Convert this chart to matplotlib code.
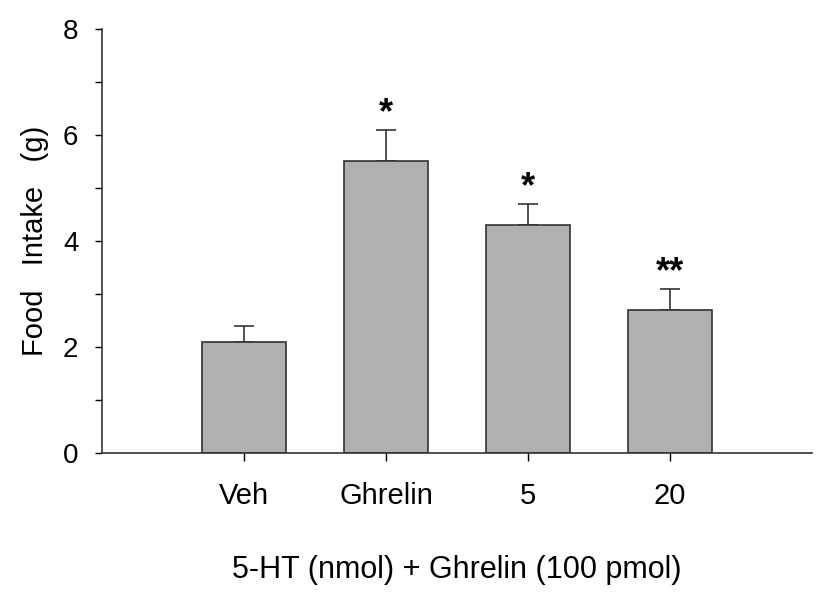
import numpy as np
import matplotlib.pyplot as plt
from matplotlib.ticker import MultipleLocator

plt.rcParams['font.family'] = ['Liberation Sans', 'DejaVu Sans']

groups = ["Veh", "Ghrelin", "5", "20"]
intake = [2.1, 5.5, 4.3, 2.7]
sem = [0.3, 0.6, 0.4, 0.4]
marks = ["", "*", "*", "**"]

fig = plt.figure(figsize=(8.26, 6), dpi=100)
ax = fig.add_axes([0.1235, 0.245, 0.8595, 0.707])

x = np.arange(1, len(groups) + 1)
ax.bar(x, intake, width=0.594, color="#b0b0b0", edgecolor="#333333", linewidth=1.2, zorder=2)
ax.errorbar(x, intake, yerr=[np.zeros(len(sem)), sem], fmt="none", ecolor="#333333",
            elinewidth=1.2, capsize=7, capthick=1.2, zorder=1)
for xi, m, s, v in zip(x, marks, sem, intake):
    if m:
        ax.text(xi, v + s + 0.12, m, ha="center", va="baseline", fontsize=26, fontweight="bold")

ax.set_xlim(0, 5)
ax.set_ylim(0, 8)
ax.set_xticks(x)
ax.set_xticklabels(groups)
ax.yaxis.set_major_locator(MultipleLocator(2))
ax.yaxis.set_minor_locator(MultipleLocator(1))
ax.spines["top"].set_visible(False)
ax.spines["right"].set_visible(False)
for sp in ("left", "bottom"):
    ax.spines[sp].set_linewidth(1.2)
    ax.spines[sp].set_color("#333333")
ax.tick_params(axis="y", which="major", direction="out", length=5, width=1, pad=12, labelsize=20)
ax.tick_params(axis="y", which="minor", direction="out", length=5, width=1)
ax.tick_params(axis="x", direction="out", length=6, width=1, pad=15, labelsize=21)

ax.set_ylabel("Food   Intake   (g)", fontsize=21, labelpad=10)
ax.set_xlabel("5-HT (nmol) + Ghrelin (100 pmol)", fontsize=22, labelpad=32)

fig.savefig("out.png", dpi=100)
